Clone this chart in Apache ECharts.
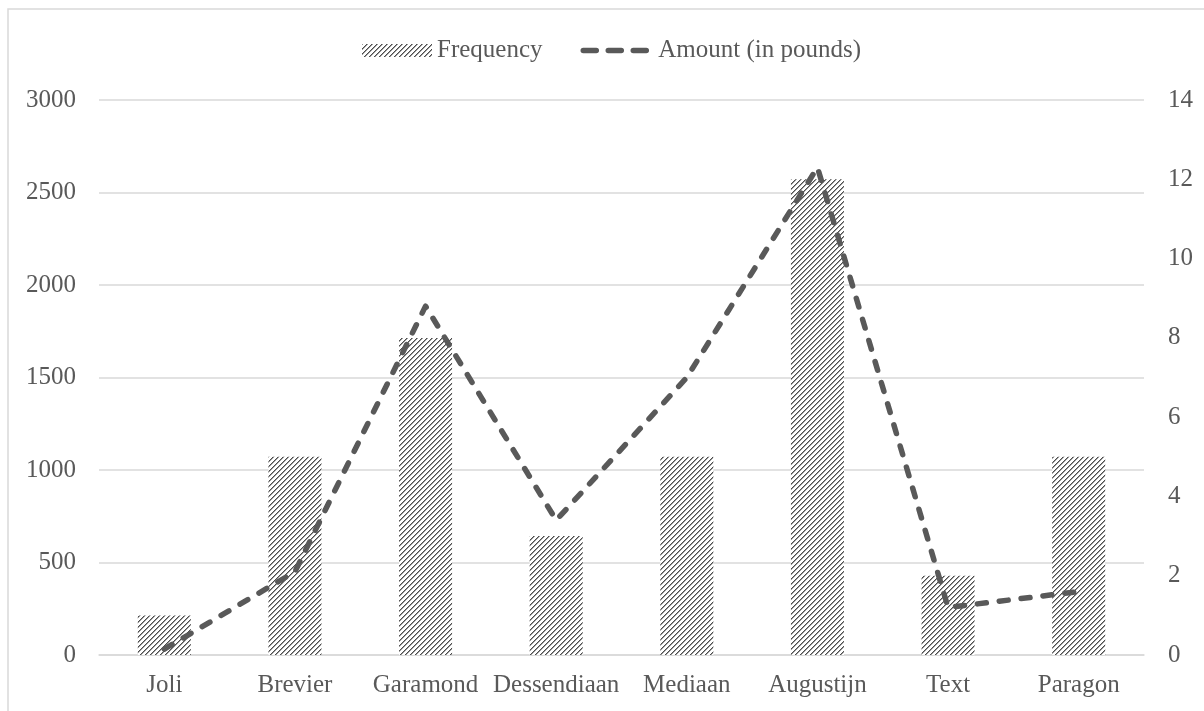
<!DOCTYPE html>
<html>
<head>
<meta charset="utf-8">
<script src="https://cdn.jsdelivr.net/npm/echarts@6/dist/echarts.min.js"></script>
<style>
html,body{margin:0;padding:0;background:#fff;}
#chart{width:1204px;height:711px;}
</style>
</head>
<body>
<div id="chart"></div>
<script>
var categories = ['Joli', 'Brevier', 'Garamond', 'Dessendiaan', 'Mediaan', 'Augustijn', 'Text', 'Paragon'];
var frequency = [214, 1071, 1714, 643, 1071, 2571, 429, 1071];
var amount = [0.15, 2.1, 8.8, 3.4, 7.0, 12.3, 1.2, 1.6];
var leftTicks = { min: 0, max: 3000, interval: 500 };
var rightTicks = { min: 0, max: 14, interval: 2 };

function makePattern() {
  var n = 5;
  var c = document.createElement('canvas');
  c.width = n; c.height = n;
  var ctx = c.getContext('2d');
  ctx.fillStyle = '#ffffff';
  ctx.fillRect(0, 0, n, n);
  for (var y = 0; y < n; y++) {
    for (var x = 0; x < n; x++) {
      var k = (x + y) % n;
      if (k === n - 1) { ctx.fillStyle = '#4d4d4d'; ctx.fillRect(x, y, 1, 1); }
      else if (k === 0) { ctx.fillStyle = '#9a9a9a'; ctx.fillRect(x, y, 1, 1); }
    }
  }
  return c;
}

var FONT = '"Liberation Serif", "DejaVu Serif", serif';
var TXT = '#595959';
var chart = echarts.init(document.getElementById('chart'), null, { renderer: 'canvas' });
var pattern = { image: makePattern(), repeat: 'repeat' };

chart.setOption({
  animation: false,
  backgroundColor: '#ffffff',
  graphic: [{
    type: 'rect',
    shape: { x: 8, y: 9, width: 1300, height: 800 },
    style: { fill: 'none', stroke: '#d9d9d9', lineWidth: 1.5 },
    silent: true
  }],
  legend: {
    left: 357,
    top: 33,
    itemWidth: 70,
    itemHeight: 13,
    itemGap: 38,
    textStyle: { fontFamily: FONT, fontSize: 25, color: TXT },
    data: [
      { name: 'Frequency', icon: 'rect' },
      { name: 'Amount (in pounds)',
        itemStyle: { opacity: 0 },
        lineStyle: { color: '#595959', width: 5.5, type: [13, 12], cap: 'round' } }
    ]
  },
  grid: { left: 99, right: 60, top: 100, bottom: 56, containLabel: false },
  xAxis: {
    type: 'category',
    data: categories,
    axisLine: { show: true, lineStyle: { color: '#d9d9d9', width: 1.5 } },
    axisTick: { show: false },
    axisLabel: { fontFamily: FONT, fontSize: 25, color: TXT, margin: 18, interval: 0 }
  },
  yAxis: [{
    type: 'value',
    min: leftTicks.min, max: leftTicks.max, interval: leftTicks.interval,
    axisLine: { show: false }, axisTick: { show: false },
    splitLine: { lineStyle: { color: '#d9d9d9', width: 1.5 } },
    axisLabel: { fontFamily: FONT, fontSize: 25, color: TXT, margin: 23,
      formatter: function (v) { return String(v); } }
  }, {
    type: 'value',
    min: rightTicks.min, max: rightTicks.max, interval: rightTicks.interval,
    axisLine: { show: false }, axisTick: { show: false },
    splitLine: { show: false },
    axisLabel: { fontFamily: FONT, fontSize: 25, color: TXT, margin: 24,
      formatter: function (v) { return String(v); } }
  }],
  series: [{
    name: 'Frequency',
    type: 'bar',
    data: frequency,
    yAxisIndex: 0,
    barWidth: 53,
    itemStyle: { color: pattern }
  }, {
    name: 'Amount (in pounds)',
    type: 'line',
    data: amount,
    yAxisIndex: 1,
    symbol: 'none',
    lineStyle: { color: '#595959', width: 5.5, type: [9, 13], cap: 'round', join: 'round' },
    itemStyle: { color: '#595959' }
  }]
});
</script>
</body>
</html>
